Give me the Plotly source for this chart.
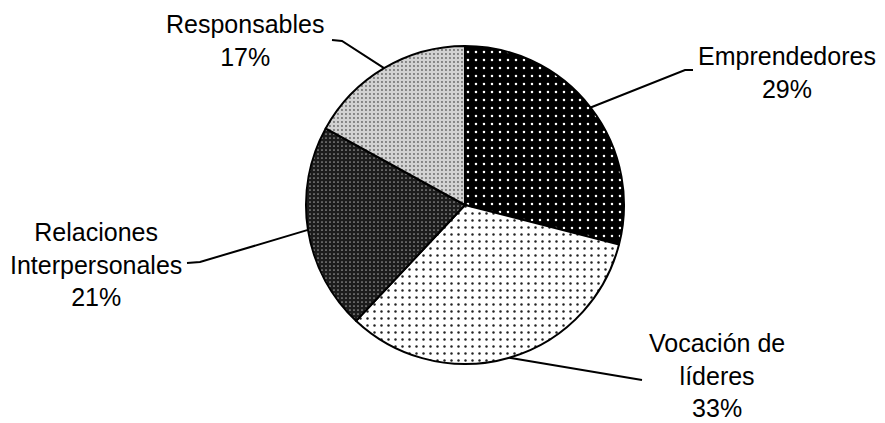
import numpy as np
import plotly.graph_objects as go

# ---- data ----
categories = ["Emprendedores", "Vocación de líderes", "Relaciones Interpersonales", "Responsables"]
label_lines = ["Emprendedores", "Vocación de<br>líderes", "Relaciones<br>Interpersonales", "Responsables"]
values = [29, 33, 21, 17]

# ---- layout constants (pixels) ----
W, H = 885, 423
CX, CY, R = 465, 205, 159

# label block centres and leader-line elbows (pixel layout, label side)
label_pos = [(787, 72), (717, 375), (96, 264), (245, 40)]
elbows = [
    [(685, 70), (693, 70)],
    [(630, 378), (642, 380)],
    [(200, 262), (187, 263)],
    [(342, 41), (332, 40)],
]

# slice styles
pat_shape = [".", ".", ".", "."]
pat_bg = ["#000000", "#ffffff", "#1c1c1c", "#d2d2d2"]
pat_fg = ["#ffffff", "#222222", "#9a9a9a", "#6a6a6a"]
pat_size = [8, 7, 4, 4]
pat_sol = [0.08, 0.1, 0.15, 0.18]


def px(x):
    return x / W


def py(y):
    return 1 - y / H


fig = go.Figure()
fig.add_trace(go.Pie(
    labels=categories,
    values=values,
    sort=False,
    direction="clockwise",
    rotation=0,
    textinfo="none",
    hoverinfo="label+percent",
    showlegend=False,
    domain=dict(x=[px(CX - R), px(CX + R)], y=[py(CY + R), py(CY - R)]),
    marker=dict(
        colors=pat_bg,
        line=dict(color="black", width=2),
        pattern=dict(shape=pat_shape, bgcolor=pat_bg, fgcolor=pat_fg,
                     size=pat_size, solidity=pat_sol, fillmode="replace"),
    ),
))

total = float(sum(values))
cum = 0.0
shapes = []
annotations = []
for i, v in enumerate(values):
    mid = (cum + v / 2.0) / total * 2 * np.pi
    cum += v
    ax = CX + R * np.sin(mid)
    ay = CY - R * np.cos(mid)
    pts = [(ax, ay)] + elbows[i]
    path = "M " + " L ".join(f"{px(x):.5f},{py(y):.5f}" for x, y in pts)
    shapes.append(dict(type="path", path=path, xref="paper", yref="paper",
                       line=dict(color="black", width=2)))
    lx, ly = label_pos[i]
    annotations.append(dict(
        text=f"{label_lines[i]}<br>{v}%",
        x=px(lx), y=py(ly), xref="paper", yref="paper",
        xanchor="center", yanchor="middle", align="center",
        showarrow=False,
        font=dict(family="Liberation Sans, Arial, sans-serif", size=25, color="black"),
    ))

fig.update_layout(
    width=W, height=H,
    margin=dict(l=0, r=0, t=0, b=0),
    paper_bgcolor="white",
    plot_bgcolor="white",
    shapes=shapes,
    annotations=annotations,
)

fig.write_html("out.html")
